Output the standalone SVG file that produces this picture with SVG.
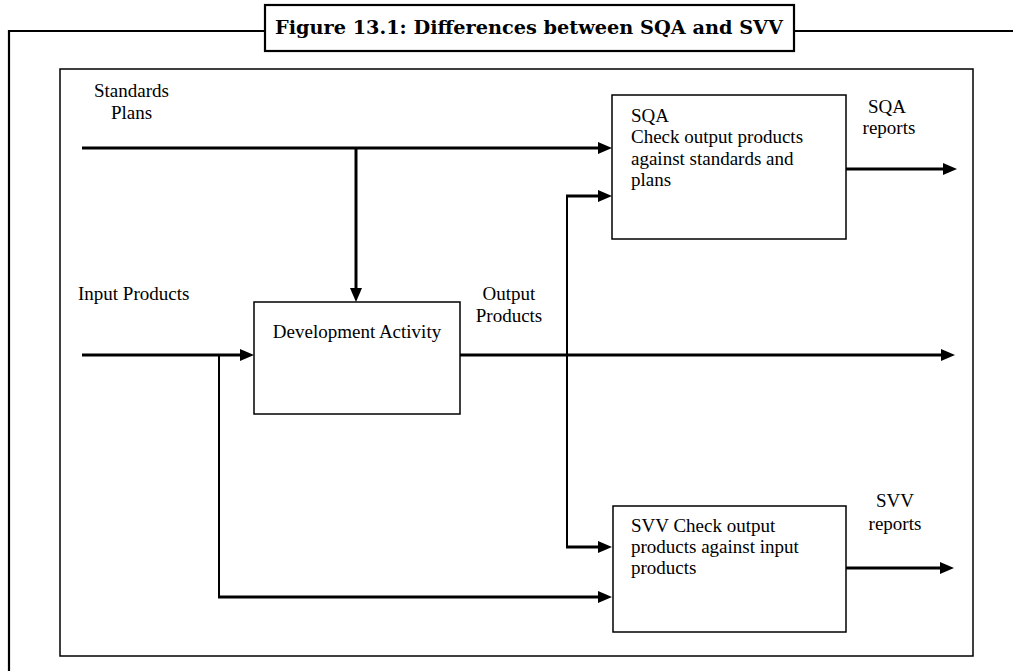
<svg xmlns="http://www.w3.org/2000/svg" width="1013" height="671" viewBox="0 0 1013 671">
<style>
.t{font-family:"Liberation Serif","Times New Roman",serif;font-size:19px;fill:#000}
.c{text-anchor:middle}
.box{fill:#fff;stroke:#000;stroke-width:1.5}
.frame{fill:none;stroke:#000;stroke-width:2.2}
.conn{fill:none;stroke:#000;stroke-width:3}
.thin{fill:none;stroke:#000;stroke-width:2}
.title{font-family:"DejaVu Serif","Liberation Serif",serif;font-size:19px;font-weight:bold;fill:#000;text-anchor:middle}
</style>
<defs>
<marker id="ah" viewBox="0 0 14 12" refX="4" refY="6" markerWidth="14" markerHeight="12" markerUnits="userSpaceOnUse" orient="auto">
<path d="M0,0 L14,6 L0,12 Z" fill="#000"/>
</marker>
</defs>
<rect width="1013" height="671" fill="#fff"/>
<g id="frame">
<path class="frame" d="M9,671 V31 H265 M794,31 H1013"/>
<rect x="60" y="69" width="913" height="587" fill="none" stroke="#000" stroke-width="1.5"/>
</g>
<g id="title">
<rect x="265" y="5" width="529" height="46" fill="#fff" stroke="#000" stroke-width="2.2"/>
<text class="title" x="529" y="34" textLength="508" lengthAdjust="spacingAndGlyphs">Figure 13.1: Differences between SQA and SVV</text>
</g>
<g id="labels">
<text class="t" x="94" y="97">Standards</text>
<text class="t" x="111" y="119">Plans</text>
<text class="t" x="78" y="300">Input Products</text>
<text class="t c" x="509" y="300">Output</text>
<text class="t c" x="509" y="322">Products</text>
<text class="t c" x="887" y="113">SQA</text>
<text class="t c" x="889" y="134">reports</text>
<text class="t c" x="895" y="507">SVV</text>
<text class="t c" x="895" y="530">reports</text>
</g>
<g id="connectors">
<path class="conn" d="M82,148 H602" marker-end="url(#ah)"/>
<path class="conn" d="M356,148 V292" marker-end="url(#ah)"/>
<path class="conn" d="M82,355 H244" marker-end="url(#ah)"/>
<path class="thin" d="M219,355 V597"/>
<path class="conn" d="M218,597 H602" marker-end="url(#ah)"/>
<path class="conn" d="M460,355 H945" marker-end="url(#ah)"/>
<path class="thin" d="M567,196 V547"/>
<path class="conn" d="M566,196 H602" marker-end="url(#ah)"/>
<path class="conn" d="M566,547 H602" marker-end="url(#ah)"/>
<path class="conn" d="M846,169 H947" marker-end="url(#ah)"/>
<path class="conn" d="M846,568 H944" marker-end="url(#ah)"/>
</g>
<g id="dev">
<rect class="box" x="254" y="302" width="206" height="112"/>
<text class="t c" x="357" y="338">Development Activity</text>
</g>
<g id="sqa">
<rect class="box" x="612" y="95" width="234" height="144"/>
<text class="t" x="631" y="122">SQA</text>
<text class="t" x="631" y="143">Check output products</text>
<text class="t" x="631" y="165">against standards and</text>
<text class="t" x="631" y="186">plans</text>
</g>
<g id="svv">
<rect class="box" x="613" y="506" width="233" height="126"/>
<text class="t" x="631" y="532">SVV Check output</text>
<text class="t" x="631" y="553">products against input</text>
<text class="t" x="631" y="574">products</text>
</g>
</svg>
